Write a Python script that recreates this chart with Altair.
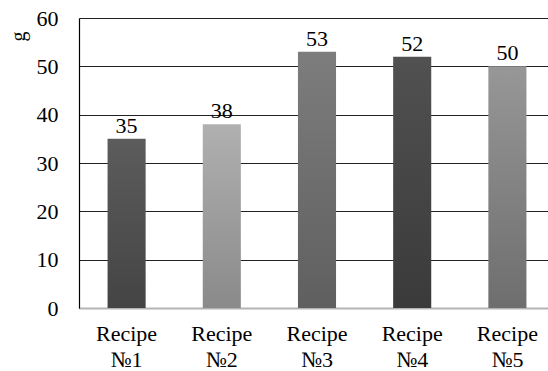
import altair as alt
import pandas as pd

recipes = ["Recipe №1", "Recipe №2", "Recipe №3", "Recipe №4", "Recipe №5"]
values = [35, 38, 53, 52, 50]
top_colors = ["#5c5c5c", "#b0b0b0", "#7d7d7d", "#515151", "#979797"]
bottom_colors = ["#444444", "#8a8a8a", "#5f5f5f", "#3a3a3a", "#6e6e6e"]
y_ticks = [0, 10, 20, 30, 40, 50, 60]

df = pd.DataFrame({"recipe": recipes, "value": values})
FONT = "Liberation Serif"

x_enc = alt.X(
    "recipe:N",
    sort=recipes,
    scale=alt.Scale(paddingInner=0.6, paddingOuter=0.3, range=[0, 476]),
    axis=alt.Axis(
        title=None,
        labelAngle=0,
        labelExpr="split(datum.label, ' ')",
        labelFont=FONT,
        labelFontSize=22,
        labelLineHeight=26,
        labelColor="#000000",
        labelPadding=15,
        ticks=False,
        domainColor="#b4b4b4",
        domainWidth=2,
        grid=False,
    ),
)
y_enc = alt.Y(
    "value:Q",
    scale=alt.Scale(domain=[0, 60], nice=False),
    axis=alt.Axis(
        values=y_ticks,
        title="g",
        titleFont=FONT,
        titleFontSize=20,
        titleFontWeight="normal",
        titleAngle=270,
        titleX=-61,
        titleY=18,
        titleAlign="center",
        titleBaseline="middle",
        titleColor="#000000",
        labelFont=FONT,
        labelFontSize=22,
        labelColor="#000000",
        labelPadding=21,
        ticks=False,
        domainColor="#000000",
        domainWidth=1.2,
        gridColor="#222222",
        gridWidth=1,
    ),
)

base = alt.Chart(df)
layers = []
for name, tc, bc in zip(recipes, top_colors, bottom_colors):
    grad = alt.LinearGradient(
        gradient="linear",
        stops=[alt.GradientStop(color=tc, offset=0), alt.GradientStop(color=bc, offset=1)],
        x1=0, x2=0, y1=0, y2=1,
    )
    layers.append(
        base.transform_filter(alt.datum.recipe == name)
        .mark_bar(color=grad)
        .encode(x=x_enc, y=y_enc)
    )

text = base.mark_text(
    font=FONT, fontSize=22, baseline="alphabetic", dy=-6, color="#000000"
).encode(x=alt.X("recipe:N", sort=recipes), y="value:Q", text="value:Q")

chart = (
    alt.layer(*layers, text)
    .properties(
        width=469,
        height=290,
        autosize=alt.AutoSizeParams(type="none"),
        padding={"left": 79, "top": 18, "right": 0, "bottom": 63},
        background="#ffffff",
    )
    .configure_view(strokeWidth=0)
)

chart.save("out.html", embed_options={"renderer": "svg", "actions": False})
